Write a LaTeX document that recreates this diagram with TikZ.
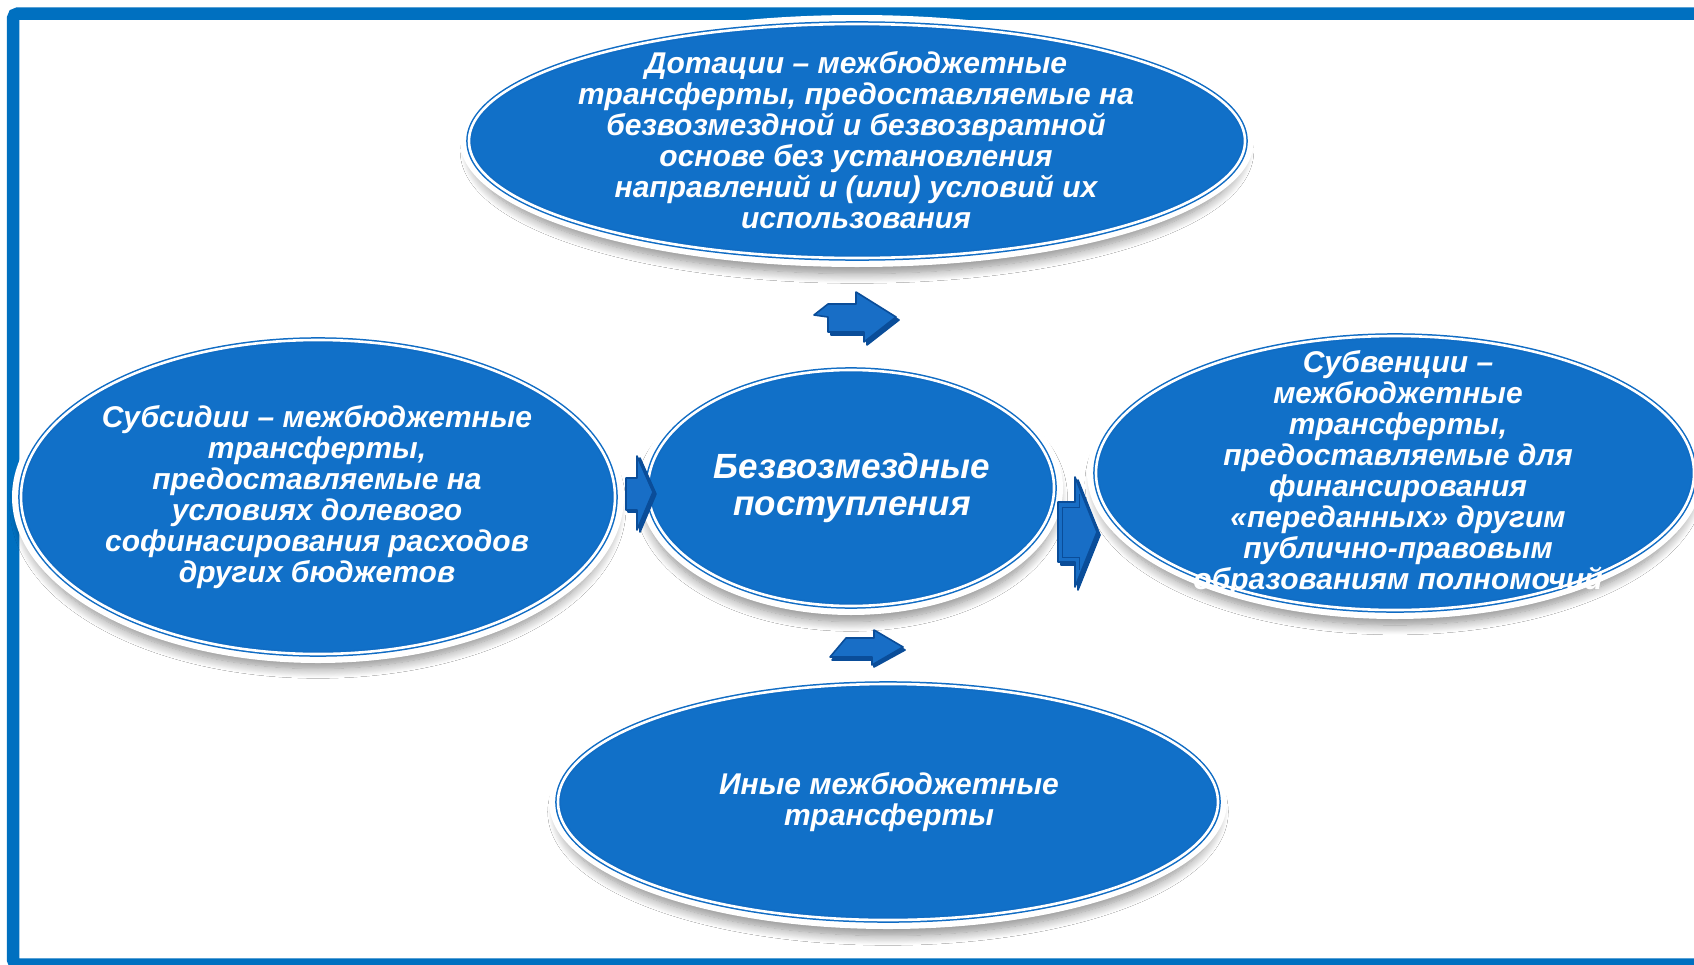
\documentclass[tikz,border=0pt]{standalone}
\usepackage{fontspec}
\setmainfont{Liberation Sans}
\usetikzlibrary{shapes.geometric,shadows.blur}
\definecolor{bfill}{RGB}{17,112,200}
\definecolor{bline}{RGB}{16,108,196}
\definecolor{frameblue}{RGB}{0,112,192}
\definecolor{adark}{RGB}{10,77,153}
\definecolor{aface}{RGB}{24,110,198}
\begin{document}
\begin{tikzpicture}[x=1pt,y=-1pt,
  halo/.style={ellipse, fill=white, inner sep=0pt,
    blur shadow={shadow xshift=0pt, shadow yshift=-10pt, shadow scale=0.975, shadow blur radius=10pt, shadow blur steps=14, shadow opacity=45}},
  bubble/.style={ellipse, fill=bfill, draw=bline, line width=1.5pt, double=white,
    double distance=2.6pt, inner sep=0pt},
  txt/.style={text=white, align=center, inner sep=0pt,
    font=\bfseries\itshape\fontsize{30}{31}\selectfont},
  bigtxt/.style={txt, font=\bfseries\itshape\fontsize{35}{37}\selectfont},
  arrowface/.style={fill=aface, draw=adark, line width=1.6pt, line join=round},
  arrowdepth/.style={fill=adark, draw=adark, line width=1.6pt, line join=round},
]
\useasboundingbox (0,0) rectangle (1694,964);
\clip (0,0) rectangle (1694,964);
\fill[white] (0,0) rectangle (1694,964);

% frame
\draw[frameblue, line width=12.5pt, rounded corners=5pt] (13,13.5) rectangle (1730,964.5);

% halos
\node[halo, minimum width=794pt, minimum height=252pt] (toph) at (857,141) {};
\node[halo, minimum width=612pt, minimum height=332pt] (lefth) at (318,497) {};
\node[halo, minimum width=424pt, minimum height=254pt] (cenh) at (851,488) {};
\node[halo, minimum width=616pt, minimum height=292pt] (righth) at (1395,473) {};
\node[halo, minimum width=678pt, minimum height=254pt] (both) at (888,802) {};

% bubbles
\node[bubble, minimum width=776pt, minimum height=234pt] (top) at (857,141) {};
\node[bubble, minimum width=594pt, minimum height=314pt] (left) at (318,497) {};
\node[bubble, minimum width=406pt, minimum height=236pt] (cen) at (851,488) {};
\node[bubble, minimum width=598pt, minimum height=274pt] (right) at (1395,473) {};
\node[bubble, minimum width=660pt, minimum height=236pt] (bot) at (888,802) {};

% arrows (decorative block arrows)
% top
\draw[arrowdepth] (831,307) -- (859,307) -- (859,295) -- (899,320) -- (867,345) -- (867,335) -- (831,335) -- cycle;
\draw[arrowface] (828,304) -- (856,304) -- (856,292) -- (896,317) -- (864,342) -- (864,332) -- (828,332) -- (828,317) -- (814,315) -- cycle;
% left
\draw[arrowdepth] (628,480) -- (640,480) -- (640,458) -- (656,494) -- (640,532) -- (640,512) -- (628,512) -- cycle;
\draw[arrowface] (626,478) -- (637,478) -- (637,456) -- (653,492) -- (637,530) -- (637,510) -- (626,510) -- cycle;
% right
\draw[arrowdepth] (1061,505) -- (1078,505) -- (1078,480) -- (1100,535) -- (1078,590) -- (1078,565) -- (1061,565) -- cycle;
\draw[arrowface] (1058,502) -- (1075,502) -- (1075,477) -- (1097,532) -- (1075,587) -- (1075,562) -- (1058,562) -- cycle;
\draw[adark, line width=1pt] (1062,507) -- (1079,507) -- (1079,494) (1062,507) -- (1062,557) -- (1079,557) -- (1079,570);
% bottom
\draw[arrowdepth] (848,641) -- (876,641) -- (876,633) -- (905,650) -- (874,667) -- (874,660) -- (832,660) -- cycle;
\draw[arrowface] (846,638) -- (874,638) -- (874,630) -- (903,647) -- (872,665) -- (872,657) -- (830,657) -- cycle;

% texts
\node[txt] (topt) at (856,140) {Дотации – межбюджетные\\трансферты, предоставляемые на\\безвозмездной и безвозвратной\\основе без установления\\направлений и (или) условий их\\использования};
\node[txt] (leftt) at (317,497) {Субсидии – межбюджетные\\трансферты,\\предоставляемые на\\условиях долевого\\софинасирования расходов\\других бюджетов};
\node[bigtxt] (cent) at (852,488) {Безвозмездные\\поступления};
\node[txt] (rightt) at (1398,473) {Субвенции –\\межбюджетные\\трансферты,\\предоставляемые для\\финансирования\\«переданных» другим\\публично-правовым\\образованиям полномочий};
\node[txt] (bott) at (889,802) {Иные межбюджетные\\трансферты};
\end{tikzpicture}
\end{document}
